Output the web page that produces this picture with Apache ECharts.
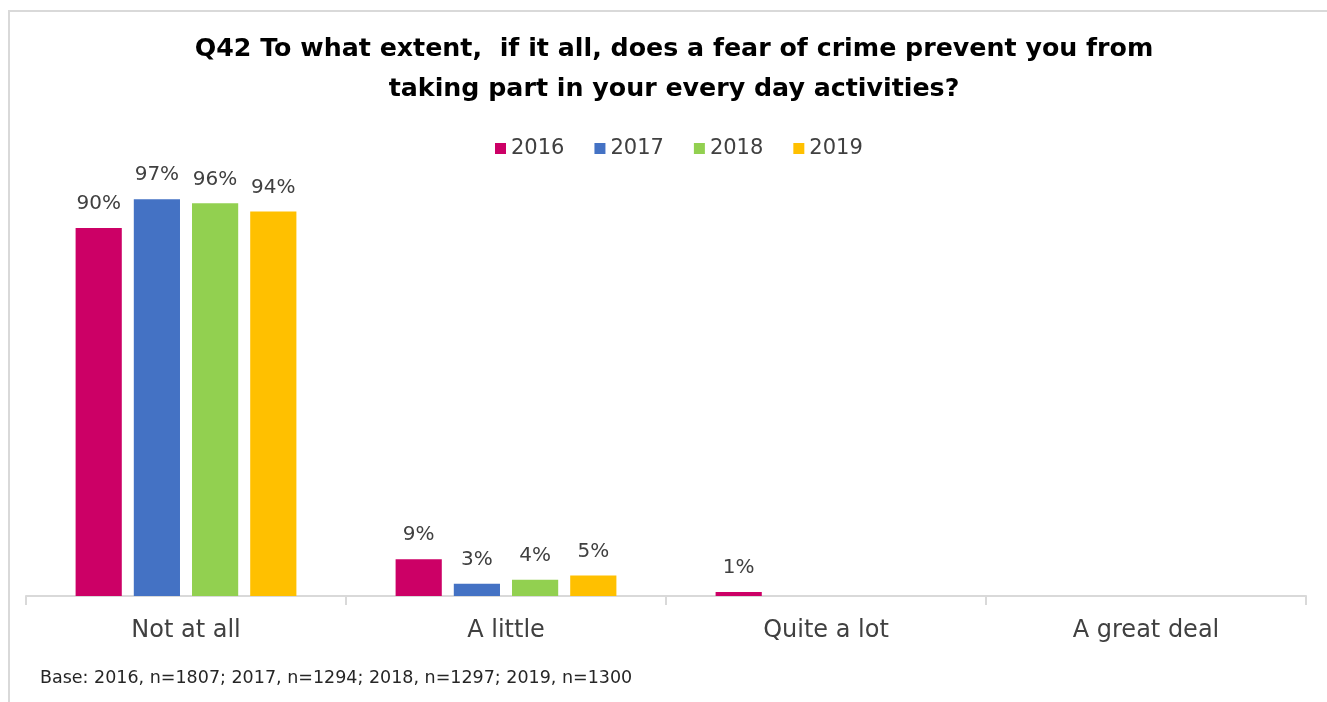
<!DOCTYPE html>
<html><head><meta charset="utf-8">
<script src="https://cdn.jsdelivr.net/npm/echarts@6/dist/echarts.min.js"></script>
<style>html,body{margin:0;padding:0;background:#fff}#frame{position:absolute;left:8px;top:10px;width:1330px;height:720px;border:2px solid #d9d9d9;box-sizing:border-box}#c{position:absolute;left:0;top:0;width:1327px;height:702px}</style>
</head><body><div id="frame"></div><div id="c"></div>
<script>
const categories = ['Not at all', 'A little', 'Quite a lot', 'A great deal'];
const years = ['2016', '2017', '2018', '2019'];
const v2016 = [90, 9, 1, null];
const v2017 = [97, 3, null, null];
const v2018 = [96, 4, null, null];
const v2019 = [94, 5, null, null];
const colors = ['#CC0066', '#4472C4', '#92D050', '#FFC000'];
const titleText = 'Q42 To what extent,  if it all, does a fear of crime prevent you from\ntaking part in your every day activities?';
const baseNote = 'Base: 2016, n=1807; 2017, n=1294; 2018, n=1297; 2019, n=1300';

const FONT = '"DejaVu Sans", sans-serif';
const seriesData = [v2016, v2017, v2018, v2019];
const chart = echarts.init(document.getElementById('c'), null, {renderer: 'canvas'});
chart.setOption({
  animation: false,
  title: {
    text: titleText, left: 669, top: 24, textAlign: 'center',
    textStyle: {fontFamily: FONT, fontWeight: 'bold', fontSize: 25.3, color: '#000', lineHeight: 40, align: 'center'}
  },
  graphic: [{
    type: 'text', left: 40, top: 669,
    style: {text: baseNote, fontFamily: FONT, fontSize: 17.5, fill: '#262626'}
  }],
  legend: {
    data: years, top: 133, left: 490, itemWidth: 11, itemHeight: 11, itemGap: 30,
    icon: 'rect',
    textStyle: {fontFamily: FONT, fontSize: 21, color: '#404040'}
  },
  grid: {left: 26, right: 21, top: 187, bottom: 106, containLabel: false},
  xAxis: {
    type: 'category', data: categories,
    axisLine: {lineStyle: {color: '#d9d9d9', width: 2}},
    axisTick: {show: true, length: 9, lineStyle: {color: '#d9d9d9', width: 2}},
    axisLabel: {fontFamily: FONT, fontSize: 24, color: '#404040', margin: 23}
  },
  yAxis: {type: 'value', min: 0, max: 100, show: false, splitLine: {show: false}},
  series: years.map((y, i) => ({
    name: y, type: 'bar', data: seriesData[i],
    barGap: '26%', barCategoryGap: '31%',
    itemStyle: {color: colors[i]},
    label: {show: true, position: 'top', distance: 14, formatter: p => p.value == null ? '' : p.value + '%',
      fontFamily: FONT, fontSize: 20, color: '#404040'}
  }))
});
</script></body></html>
